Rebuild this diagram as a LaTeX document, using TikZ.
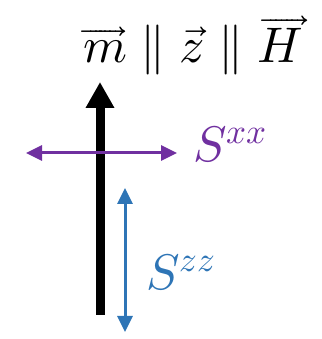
\documentclass[tikz,border=0pt]{standalone}
\usepackage{amsmath}
\usepackage{unicode-math}
\usetikzlibrary{arrows.meta}
\definecolor{sxxpurple}{RGB}{112,48,160}
\definecolor{szzblue}{RGB}{46,117,182}

\begin{document}
\begin{tikzpicture}[x=1pt,y=1pt,font=\fontsize{50}{56}\selectfont]
\useasboundingbox (0,0) rectangle (321,339);
\coordinate (mbot) at (100,24);
\coordinate (mtop) at (100,257);
\coordinate (xleft) at (26,186);
\coordinate (xright) at (177,186);
\coordinate (ztop) at (125,151);
\coordinate (zbot) at (125,7);
\draw[line width=9pt,-{Triangle[length=26pt,width=27pt]}] (mbot)--(mtop);
\draw[sxxpurple,line width=3pt,{Triangle[length=16pt,width=15pt]}-{Triangle[length=16pt,width=15pt]}] (xleft)--(xright);
\draw[szzblue,line width=3pt,{Triangle[length=16pt,width=15pt]}-{Triangle[length=16pt,width=15pt]}] (zbot)--(ztop);
\node[anchor=base west,inner sep=0pt,text=sxxpurple] (sxx) at (193,177) {$S^{xx}$};
\node[anchor=base west,inner sep=0pt,text=szzblue] (szz) at (146,49) {$S^{zz}$};
\node[anchor=base,inner sep=0pt] (title) at (193,276) {$\overrightarrow{m}\parallel\vec{z}\parallel\overrightarrow{H}$};
\end{tikzpicture}
\end{document}
